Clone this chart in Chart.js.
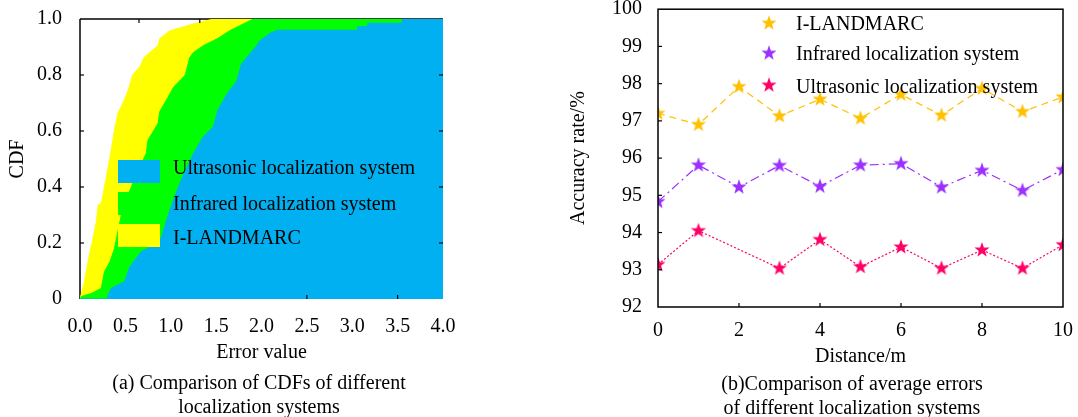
<!DOCTYPE html>
<html>
<head>
<meta charset="utf-8">
<title>CDF and accuracy comparison</title>
<script src="https://cdn.jsdelivr.net/npm/chart.js@4.4.1/dist/chart.umd.min.js"></script>
<style>
  html, body { margin: 0; padding: 0; background: #fff; }
  #wrap { position: relative; width: 1078px; height: 417px; overflow: hidden;
          font-family: "Liberation Serif", "Times New Roman", serif; }
  #cdfChart { position: absolute; left: 0; top: 0; }
  #accChart { position: absolute; left: 540px; top: 0; }
  .caption { position: absolute; width: 400px; font-size: 20px; line-height: 24px;
             text-align: center; color: #000; white-space: nowrap; }
</style>
</head>
<body>
<div id="wrap">
  <canvas id="cdfChart" width="540" height="417"></canvas>
  <canvas id="accChart" width="538" height="417"></canvas>
  <div class="caption" style="left:59px; top:370px;">(a) Comparison of CDFs of different<br>localization systems</div>
  <div class="caption" style="left:652px; top:371px;">(b)Comparison of average errors<br>of different localization systems</div>
</div>

<script>
// ================= DATA =================
const FONT_FAMILY = '"Liberation Serif", "Times New Roman", serif';
const FONT = { family: FONT_FAMILY, size: 20 };

// ---- (a) CDF curves ----
const cdfNames = ["Ultrasonic localization system", "Infrared localization system", "I-LANDMARC"];
const cdfColors = ["#00b0f0", "#00ff00", "#ffff00"];

const ultrasonicErr = [0, 0.30, 0.31, 0.345, 0.49, 0.55, 0.675, 0.785, 0.895, 0.95, 0.99, 1.10, 1.25, 1.36, 1.47, 1.52, 1.62, 1.73, 1.78, 1.87, 1.96, 1.98, 2.10, 2.18, 3.06, 3.06, 3.17, 3.17, 3.55, 3.55, 4.0];
const ultrasonicCdf = [0, 0, 0.014, 0.038, 0.062, 0.115, 0.169, 0.187, 0.217, 0.276, 0.318, 0.413, 0.52, 0.58, 0.615, 0.675, 0.732, 0.78, 0.84, 0.875, 0.91, 0.922, 0.95, 0.96, 0.96, 0.973, 0.973, 0.985, 0.985, 1.0, 1.0];

const infraredErr = [0, 0.01, 0.125, 0.235, 0.27, 0.33, 0.38, 0.455, 0.51, 0.565, 0.64, 0.73, 0.75, 0.86, 0.88, 0.99, 1.03, 1.16, 1.21, 1.25, 1.36, 1.51, 1.65, 1.76, 1.91, 4.0];
const infraredCdf = [0, 0.008, 0.02, 0.038, 0.098, 0.133, 0.18, 0.30, 0.354, 0.40, 0.46, 0.52, 0.568, 0.627, 0.67, 0.732, 0.756, 0.80, 0.863, 0.88, 0.905, 0.929, 0.958, 0.976, 1.0, 1.0];

const landmarcErr = [0, 0.05, 0.088, 0.143, 0.18, 0.2, 0.235, 0.27, 0.31, 0.345, 0.38, 0.42, 0.47, 0.53, 0.58, 0.66, 0.71, 0.86, 0.88, 0.97, 0.99, 1.25, 1.47, 4.0];
const landmarcCdf = [0, 0.062, 0.133, 0.217, 0.276, 0.336, 0.342, 0.40, 0.47, 0.532, 0.604, 0.665, 0.697, 0.744, 0.80, 0.83, 0.864, 0.905, 0.93, 0.953, 0.958, 0.982, 1.0, 1.0];

const errorTicks = [0, 0.5, 1.0, 1.5, 2.0, 2.5, 3.0, 3.5, 4.0];
const cdfTicks = [0, 0.2, 0.4, 0.6, 0.8, 1.0];
// odd little tick marks the original figure has on its top and bottom edges
const cdfTopMarks = [0.65, 1.32];
const cdfBottomMarks = [2.5, 3.5];

// ---- (b) accuracy vs distance ----
const distance = [0, 1, 2, 3, 4, 5, 6, 7, 8, 9, 10];
const accNames = ["I-LANDMARC", "Infrared localization system", "Ultrasonic localization system"];
const accColors = ["#ffc000", "#9b30ff", "#ff0066"];
const landmarcAcc = [97.2, 96.9, 97.92, 97.13, 97.58, 97.07, 97.71, 97.15, 97.87, 97.25, 97.64];
const infraredAcc = [94.83, 95.81, 95.22, 95.8, 95.24, 95.81, 95.85, 95.22, 95.67, 95.13, 95.69];
const ultrasonicAcc = [93.14, 94.05, null, 93.04, 93.81, 93.08, 93.61, 93.04, 93.53, 93.04, 93.67];

const distanceTicks = [0, 2, 4, 6, 8, 10];
const accTicks = [92, 93, 94, 95, 96, 97, 98, 99, 100];

// ================= HELPERS =================
function toPoints(xs, ys) {
  return xs.map((x, i) => ({ x: x, y: ys[i] }));
}

// filled 5-point star used as point style
function makeStar(color, R) {
  const c = document.createElement("canvas");
  const size = Math.ceil(R * 2 + 2);
  c.width = size;
  c.height = size;
  const g = c.getContext("2d");
  const cx = size / 2, cy = size / 2;
  g.beginPath();
  for (let i = 0; i < 10; i++) {
    const r = i % 2 === 0 ? R : R * 0.4;
    const a = -Math.PI / 2 + (i * Math.PI) / 5;
    g.lineTo(cx + r * Math.cos(a), cy + r * Math.sin(a));
  }
  g.closePath();
  g.fillStyle = color;
  g.fill();
  return c;
}

function line(ctx, x1, y1, x2, y2) {
  ctx.beginPath();
  ctx.moveTo(x1, y1);
  ctx.lineTo(x2, y2);
  ctx.stroke();
}

// fixed axis boxes so the plot area lands where the figure has it
function fixWidth(w) {
  return (s) => { s.width = w; s.paddingTop = 0; s.paddingBottom = 0; };
}
function fixHeight(h) {
  return (s) => { s.height = h; s.paddingLeft = 0; s.paddingRight = 0; };
}

// ================= (a) CDF CHART =================
const cdfFrame = {
  id: "cdfFrame",
  beforeDatasetsDraw(chart) {
    const { ctx, chartArea: a } = chart;
    ctx.save();
    ctx.strokeStyle = "#000";
    ctx.lineWidth = 1.5;
    line(ctx, a.left, a.top, a.right, a.top);
    line(ctx, a.left, a.top, a.left, a.bottom);
    ctx.restore();
  },
  afterDatasetsDraw(chart) {
    const { ctx, chartArea: a, scales } = chart;
    ctx.save();
    ctx.strokeStyle = "#000";
    ctx.lineWidth = 1.2;
    cdfTicks.slice(1, -1).forEach((v) => {
      const y = scales.y.getPixelForValue(v);
      line(ctx, a.left, y, a.left + 4, y);
      line(ctx, a.right, y, a.right - 4, y);
    });
    cdfTopMarks.forEach((v) => {
      const x = scales.x.getPixelForValue(v);
      line(ctx, x, a.top, x, a.top + 4);
    });
    cdfBottomMarks.forEach((v) => {
      const x = scales.x.getPixelForValue(v);
      line(ctx, x, a.bottom, x, a.bottom - 4);
    });
    ctx.restore();
  },
};

const cdfLegend = {
  id: "cdfLegend",
  afterDraw(chart) {
    const { ctx, chartArea: a } = chart;
    const boxTops = [141, 173, 205];
    const baselines = [154.5, 191, 224.5];
    ctx.save();
    ctx.font = "20px " + FONT_FAMILY;
    ctx.textBaseline = "alphabetic";
    chart.data.datasets.forEach((ds, i) => {
      ctx.fillStyle = ds.backgroundColor;
      ctx.fillRect(a.left + 38, a.top + boxTops[i], 42, 23);
      ctx.fillStyle = "#000";
      ctx.fillText(ds.label, a.left + 93, a.top + baselines[i]);
    });
    ctx.restore();
  },
};

const cdfSeries = [
  toPoints(ultrasonicErr, ultrasonicCdf),
  toPoints(infraredErr, infraredCdf),
  toPoints(landmarcErr, landmarcCdf),
];

new Chart(document.getElementById("cdfChart"), {
  type: "line",
  data: {
    datasets: cdfSeries.map((pts, i) => ({
      label: cdfNames[i],
      data: pts,
      fill: "origin",
      backgroundColor: cdfColors[i],
      borderColor: cdfColors[i],
      borderWidth: 1,
      pointRadius: 0,
      tension: 0,
    })),
  },
  options: {
    responsive: false,
    animation: false,
    devicePixelRatio: 1,
    layout: { padding: { left: 0, top: 19, right: 97, bottom: 0 } },
    plugins: { legend: { display: false }, tooltip: { enabled: false } },
    scales: {
      x: {
        type: "linear",
        min: 0,
        max: 4,
        afterBuildTicks: (s) => { s.ticks = errorTicks.map((v) => ({ value: v })); },
        ticks: { callback: (v) => v.toFixed(1), font: FONT, color: "#000", padding: 16, maxRotation: 0, autoSkip: false },
        grid: { display: false, drawTicks: false },
        border: { display: false },
        title: { display: true, text: "Error value", font: FONT, color: "#000", padding: { top: 0, bottom: 52 } },
        afterFit: fixHeight(118),
      },
      y: {
        type: "linear",
        min: 0,
        max: 1,
        afterBuildTicks: (s) => { s.ticks = cdfTicks.map((v) => ({ value: v })); },
        ticks: { callback: (v) => (v === 0 ? "0" : v.toFixed(1)), font: FONT, color: "#000", padding: 18 },
        grid: { display: false, drawTicks: false },
        border: { display: false },
        title: { display: true, text: "CDF", font: FONT, color: "#000", padding: { top: 6, bottom: 0 } },
        afterFit: fixWidth(80),
      },
    },
  },
  plugins: [cdfFrame, cdfLegend],
});

// ================= (b) ACCURACY CHART =================
const accSeries = [landmarcAcc, infraredAcc, ultrasonicAcc];
const accDashes = [[7, 5], [9, 4, 2, 4], [2, 2]];
const accStars = accColors.map((c) => makeStar(c, 8));

const accFrame = {
  id: "accFrame",
  afterDatasetsDraw(chart) {
    const { ctx, chartArea: a, scales } = chart;
    ctx.save();
    ctx.strokeStyle = "#000";
    ctx.lineWidth = 1.5;
    ctx.strokeRect(a.left, a.top, a.right - a.left, a.bottom - a.top);
    ctx.lineWidth = 1.2;
    accTicks.slice(1, -1).forEach((v) => {
      const y = scales.y.getPixelForValue(v);
      line(ctx, a.left, y, a.left + 4, y);
    });
    distanceTicks.slice(1, -1).forEach((v) => {
      const x = scales.x.getPixelForValue(v);
      line(ctx, x, a.bottom, x, a.bottom - 4);
    });
    ctx.restore();
  },
};

const accLegend = {
  id: "accLegend",
  afterDraw(chart) {
    const { ctx, chartArea: a } = chart;
    const starRows = [14, 44, 76];
    const baselines = [21, 51, 84];
    ctx.save();
    ctx.font = "20px " + FONT_FAMILY;
    ctx.fillStyle = "#000";
    ctx.textBaseline = "alphabetic";
    chart.data.datasets.forEach((ds, i) => {
      const img = ds.pointStyle;
      ctx.drawImage(img, a.left + 111 - img.width / 2, a.top + starRows[i] - img.height / 2);
      ctx.fillText(ds.label, a.left + 138, a.top + baselines[i]);
    });
    ctx.restore();
  },
};

new Chart(document.getElementById("accChart"), {
  type: "line",
  data: {
    datasets: accSeries.map((vals, i) => ({
      label: accNames[i],
      data: toPoints(distance, vals),
      borderColor: accColors[i],
      backgroundColor: accColors[i],
      borderWidth: 1.2,
      borderDash: accDashes[i],
      pointStyle: accStars[i],
      pointRadius: 8,
      fill: false,
      spanGaps: true,
      tension: 0,
    })),
  },
  options: {
    responsive: false,
    animation: false,
    devicePixelRatio: 1,
    layout: { padding: { left: 0, top: 4, right: 15, bottom: 0 } },
    plugins: { legend: { display: false }, tooltip: { enabled: false } },
    scales: {
      x: {
        type: "linear",
        min: 0,
        max: 10,
        afterBuildTicks: (s) => { s.ticks = distanceTicks.map((v) => ({ value: v })); },
        ticks: { font: FONT, color: "#000", padding: 12, maxRotation: 0, autoSkip: false },
        grid: { display: false, drawTicks: false },
        border: { display: false },
        title: { display: true, text: "Distance/m", font: FONT, color: "#000", padding: { top: 0, bottom: 48 } },
        afterFit: fixHeight(110),
      },
      y: {
        type: "linear",
        min: 92,
        max: 100,
        afterBuildTicks: (s) => { s.ticks = accTicks.map((v) => ({ value: v })); },
        ticks: { font: FONT, color: "#000", padding: 16 },
        grid: { display: false, drawTicks: false },
        border: { display: false },
        title: { display: true, text: "Accuracy rate/%", font: FONT, color: "#000", padding: { top: 27, bottom: 0 } },
        afterFit: fixWidth(118),
      },
    },
  },
  plugins: [accFrame, accLegend],
});
</script>
</body>
</html>
